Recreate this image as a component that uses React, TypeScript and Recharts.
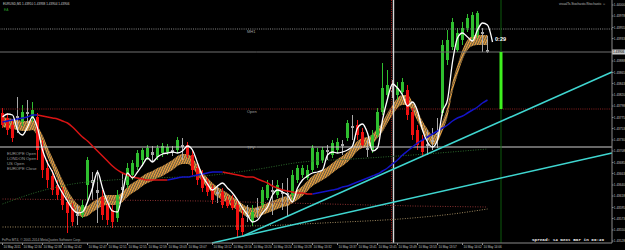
import React from 'react';
import { ComposedChart, Bar, Line, Area, XAxis, YAxis, ReferenceLine } from 'recharts';

const symbolTitle = 'EURUSD,M1  1.43910 1.43938 1.43904 1.43906';

const openP = [1.43784, 1.43774, 1.43760, 1.43774, 1.43766, 1.43786, 1.43774, 1.43776, 1.43714, 1.43674,
  1.43658, 1.43640, 1.43630, 1.43606, 1.43596, 1.43582, 1.43580, 1.43640, 1.43650, 1.43630,
  1.43616, 1.43600, 1.43590, 1.43574, 1.43630, 1.43640, 1.43660, 1.43676, 1.43690, 1.43696,
  1.43706, 1.43696, 1.43704, 1.43706, 1.43710, 1.43710, 1.43720, 1.43720, 1.43700, 1.43674,
  1.43660, 1.43646, 1.43634, 1.43622, 1.43626, 1.43610, 1.43610, 1.43600, 1.43574, 1.43576,
  1.43566, 1.43590, 1.43600, 1.43614, 1.43630, 1.43620, 1.43626, 1.43620, 1.43620, 1.43650,
  1.43660, 1.43654, 1.43670, 1.43680, 1.43690, 1.43706, 1.43700, 1.43710, 1.43718, 1.43734,
  1.43754, 1.43760, 1.43746, 1.43710, 1.43710, 1.43740, 1.43786, 1.43820, 1.43830, 1.43820,
  1.43826, 1.43830, 1.43786, 1.43750, 1.43730, 1.43718, 1.43726, 1.43740, 1.43784, 1.43890,
  1.43916, 1.43910, 1.43930, 1.43954, 1.43936, 1.43940, 1.43946, 1.43910];

const highP = [1.43794, 1.43784, 1.43770, 1.43816, 1.43800, 1.43810, 1.43806, 1.43784, 1.43730, 1.43690,
  1.43670, 1.43650, 1.43636, 1.43614, 1.43604, 1.43600, 1.43610, 1.43696, 1.43666, 1.43670,
  1.43630, 1.43610, 1.43600, 1.43630, 1.43664, 1.43684, 1.43690, 1.43710, 1.43714, 1.43720,
  1.43718, 1.43720, 1.43724, 1.43722, 1.43718, 1.43736, 1.43734, 1.43726, 1.43710, 1.43684,
  1.43670, 1.43654, 1.43640, 1.43640, 1.43634, 1.43618, 1.43620, 1.43610, 1.43590, 1.43600,
  1.43600, 1.43614, 1.43636, 1.43650, 1.43650, 1.43650, 1.43644, 1.43654, 1.43670, 1.43680,
  1.43680, 1.43680, 1.43720, 1.43714, 1.43716, 1.43720, 1.43730, 1.43734, 1.43730, 1.43770,
  1.43780, 1.43770, 1.43754, 1.43730, 1.43750, 1.43794, 1.43884, 1.43870, 1.43850, 1.43846,
  1.43854, 1.43840, 1.43794, 1.43760, 1.43740, 1.43750, 1.43754, 1.43774, 1.43930, 1.43950,
  1.43974, 1.43954, 1.43966, 1.43982, 1.43986, 1.43988, 1.43954, 1.43938];

const lowP = [1.43754, 1.43740, 1.43726, 1.43744, 1.43758, 1.43764, 1.43766, 1.43690, 1.43654, 1.43634,
  1.43620, 1.43610, 1.43590, 1.43544, 1.43558, 1.43560, 1.43574, 1.43604, 1.43610, 1.43564,
  1.43570, 1.43560, 1.43554, 1.43566, 1.43614, 1.43634, 1.43650, 1.43670, 1.43678, 1.43690,
  1.43686, 1.43690, 1.43696, 1.43700, 1.43698, 1.43704, 1.43690, 1.43694, 1.43660, 1.43640,
  1.43626, 1.43618, 1.43602, 1.43604, 1.43594, 1.43594, 1.43590, 1.43536, 1.43536, 1.43566,
  1.43558, 1.43574, 1.43594, 1.43610, 1.43580, 1.43614, 1.43590, 1.43576, 1.43610, 1.43644,
  1.43654, 1.43650, 1.43666, 1.43674, 1.43684, 1.43690, 1.43694, 1.43704, 1.43700, 1.43728,
  1.43730, 1.43730, 1.43714, 1.43696, 1.43704, 1.43734, 1.43780, 1.43810, 1.43814, 1.43810,
  1.43818, 1.43770, 1.43730, 1.43710, 1.43696, 1.43700, 1.43710, 1.43714, 1.43778, 1.43880,
  1.43910, 1.43906, 1.43920, 1.43946, 1.43930, 1.43934, 1.43906, 1.43904];

const closeP = [1.43760, 1.43750, 1.43734, 1.43778, 1.43786, 1.43782, 1.43790, 1.43710, 1.43670, 1.43650,
  1.43630, 1.43620, 1.43600, 1.43584, 1.43566, 1.43578, 1.43600, 1.43690, 1.43644, 1.43624,
  1.43580, 1.43570, 1.43566, 1.43620, 1.43636, 1.43674, 1.43684, 1.43704, 1.43710, 1.43714,
  1.43700, 1.43714, 1.43718, 1.43716, 1.43706, 1.43730, 1.43716, 1.43700, 1.43670, 1.43650,
  1.43634, 1.43626, 1.43610, 1.43626, 1.43600, 1.43598, 1.43594, 1.43550, 1.43546, 1.43580,
  1.43586, 1.43594, 1.43630, 1.43640, 1.43626, 1.43640, 1.43622, 1.43624, 1.43660, 1.43674,
  1.43674, 1.43670, 1.43714, 1.43706, 1.43710, 1.43710, 1.43724, 1.43726, 1.43722, 1.43764,
  1.43758, 1.43740, 1.43720, 1.43714, 1.43740, 1.43786, 1.43834, 1.43840, 1.43826, 1.43834,
  1.43846, 1.43780, 1.43740, 1.43720, 1.43706, 1.43722, 1.43730, 1.43744, 1.43920, 1.43930,
  1.43966, 1.43944, 1.43954, 1.43974, 1.43980, 1.43984, 1.43942, 1.43906];

const fastMA = [1.43776, 1.43782, 1.43780, 1.43750, 1.43740, 1.43756, 1.43776, 1.43754, 1.43710, 1.43684,
  1.43666, 1.43642, 1.43624, 1.43608, 1.43592, 1.43584, 1.43586, 1.43606, 1.43634, 1.43666,
  1.43634, 1.43606, 1.43588, 1.43586, 1.43624, 1.43664, 1.43654, 1.43666, 1.43680, 1.43694,
  1.43686, 1.43696, 1.43702, 1.43704, 1.43706, 1.43704, 1.43708, 1.43718, 1.43710, 1.43684,
  1.43658, 1.43642, 1.43630, 1.43638, 1.43644, 1.43634, 1.43624, 1.43610, 1.43594, 1.43580,
  1.43566, 1.43570, 1.43584, 1.43596, 1.43620, 1.43630, 1.43626, 1.43620, 1.43606, 1.43634,
  1.43650, 1.43658, 1.43664, 1.43666, 1.43670, 1.43700, 1.43706, 1.43704, 1.43706, 1.43710,
  1.43718, 1.43754, 1.43762, 1.43744, 1.43708, 1.43714, 1.43770, 1.43812, 1.43842, 1.43834,
  1.43820, 1.43798, 1.43806, 1.43788, 1.43750, 1.43726, 1.43716, 1.43730, 1.43786, 1.43810,
  1.43886, 1.43934, 1.43944, 1.43936, 1.43928, 1.43950, 1.43964, 1.43960, 1.43926];

const bandUpper = [1.43776, 1.43774, 1.43772, 1.43770, 1.43768, 1.43768, 1.43770, 1.43758, 1.43740, 1.43716,
  1.43694, 1.43672, 1.43650, 1.43630, 1.43614, 1.43602, 1.43596, 1.43598, 1.43606, 1.43612,
  1.43618, 1.43620, 1.43620, 1.43620, 1.43626, 1.43636, 1.43644, 1.43650, 1.43658, 1.43664,
  1.43668, 1.43674, 1.43678, 1.43684, 1.43690, 1.43698, 1.43702, 1.43702, 1.43694, 1.43680,
  1.43666, 1.43654, 1.43644, 1.43636, 1.43630, 1.43624, 1.43616, 1.43610, 1.43602, 1.43596,
  1.43594, 1.43596, 1.43600, 1.43604, 1.43608, 1.43612, 1.43616, 1.43618, 1.43624, 1.43630,
  1.43638, 1.43648, 1.43658, 1.43664, 1.43670, 1.43676, 1.43684, 1.43692, 1.43698, 1.43706,
  1.43716, 1.43728, 1.43734, 1.43736, 1.43742, 1.43754, 1.43766, 1.43784, 1.43800, 1.43814,
  1.43820, 1.43820, 1.43806, 1.43788, 1.43768, 1.43752, 1.43740, 1.43746, 1.43768, 1.43796,
  1.43846, 1.43880, 1.43910, 1.43930, 1.43938, 1.43940, 1.43940, 1.43940];

const bandLower = [1.43756, 1.43754, 1.43752, 1.43750, 1.43748, 1.43748, 1.43750, 1.43738, 1.43720, 1.43696,
  1.43674, 1.43652, 1.43630, 1.43610, 1.43594, 1.43582, 1.43576, 1.43578, 1.43586, 1.43592,
  1.43598, 1.43600, 1.43600, 1.43600, 1.43606, 1.43616, 1.43624, 1.43630, 1.43638, 1.43644,
  1.43648, 1.43654, 1.43658, 1.43664, 1.43670, 1.43678, 1.43682, 1.43682, 1.43674, 1.43660,
  1.43646, 1.43634, 1.43624, 1.43616, 1.43610, 1.43604, 1.43596, 1.43590, 1.43582, 1.43576,
  1.43574, 1.43576, 1.43580, 1.43584, 1.43588, 1.43592, 1.43596, 1.43598, 1.43604, 1.43610,
  1.43618, 1.43628, 1.43638, 1.43644, 1.43650, 1.43656, 1.43664, 1.43672, 1.43678, 1.43686,
  1.43696, 1.43708, 1.43714, 1.43716, 1.43722, 1.43734, 1.43746, 1.43764, 1.43780, 1.43794,
  1.43800, 1.43800, 1.43786, 1.43768, 1.43748, 1.43732, 1.43720, 1.43726, 1.43748, 1.43776,
  1.43826, 1.43860, 1.43890, 1.43910, 1.43918, 1.43920, 1.43920, 1.43920];

const slowMA = [1.43766, 1.43768, 1.43770, 1.43772, 1.43774, 1.43776, 1.43780, 1.43780, 1.43778, 1.43776,
  1.43774, 1.43772, 1.43768, 1.43764, 1.43756, 1.43746, 1.43736, 1.43728, 1.43718, 1.43708,
  1.43698, 1.43688, 1.43678, 1.43670, 1.43664, 1.43660, 1.43656, 1.43654, 1.43652, 1.43650,
  1.43650, 1.43650, 1.43650, 1.43650, 1.43652, 1.43654, 1.43656, 1.43656, 1.43658, 1.43660,
  1.43662, 1.43664, 1.43666, 1.43666, 1.43666, 1.43664, 1.43662, 1.43660, 1.43658, 1.43656,
  1.43656, 1.43652, 1.43648, 1.43644, 1.43638, 1.43634, 1.43630, 1.43628, 1.43626, 1.43624,
  1.43624, 1.43622, 1.43622, 1.43624, 1.43626, 1.43628, 1.43630, 1.43632, 1.43636, 1.43638,
  1.43642, 1.43646, 1.43650, 1.43654, 1.43658, 1.43662, 1.43668, 1.43674, 1.43682, 1.43690,
  1.43700, 1.43708, 1.43716, 1.43724, 1.43730, 1.43736, 1.43742, 1.43748, 1.43754, 1.43760,
  1.43768, 1.43774, 1.43778, 1.43784, 1.43790, 1.43796, 1.43804, 1.43810];

const longMA = [
  { i: 0, v: 1.43602 }, { i: 7, v: 1.43626 }, { i: 14, v: 1.43642 }, { i: 22, v: 1.43650 },
  { i: 30, v: 1.43654 }, { i: 40, v: 1.43658 }, { i: 50, v: 1.43670 }, { i: 60, v: 1.43686 },
  { i: 70, v: 1.43692 }, { i: 82, v: 1.43700 }, { i: 97, v: 1.43712 },
];
const pivotDotted = [{ i: 0, v: 1.43612 }, { i: 40, v: 1.43608 }, { i: 82, v: 1.43598 }, { i: 97, v: 1.43596 }];
const lowDotted = [
  { i: 0, v: 1.43556 }, { i: 50, v: 1.43558 }, { i: 64, v: 1.43564 },
  { i: 82, v: 1.43574 }, { i: 90, v: 1.43582 }, { i: 97, v: 1.43592 },
];

const levelMH1 = 1.43952;
const levelOpen = 1.43792;
const levelTPV = 1.43716;
const currentPrice = 1.43906;

const trendLines = [
  { x1: 41.9, y1: 1.43524, x2: 121.9, y2: 1.43704 },
  { x1: 48.1, y1: 1.43538, x2: 121.9, y2: 1.43866 },
];
const sessionBar = 78.2;
const sessionBarRed = 77.8;
const nextBarMark = 99.7;

const priceTicks = [1.44000, 1.43978, 1.43955, 1.43933, 1.43888, 1.43865, 1.43843, 1.43820, 1.43798,
  1.43775, 1.43753, 1.43730, 1.43708, 1.43685, 1.43663, 1.43640, 1.43618, 1.43595, 1.43573, 1.43550, 1.43528];

const timeTickIndex = [0, 4, 8, 12, 17, 21, 25, 29, 33, 37, 42, 46, 50, 54, 58, 62, 67, 71, 75, 79, 83, 87, 92, 96];
const timeTickLabel = ['10 May 2011', '10 May 12:34', '10 May 12:38', '10 May 12:42', '10 May 12:47', '10 May 12:51',
  '10 May 12:55', '10 May 12:59', '10 May 13:03', '10 May 13:07', '10 May 13:12', '10 May 13:16', '10 May 13:20',
  '10 May 13:24', '10 May 13:28', '10 May 13:32', '10 May 13:37', '10 May 13:41', '10 May 13:45', '10 May 13:49',
  '10 May 13:53', '10 May 13:57', '10 May 14:02', '10 May 14:06'];

const sessionLabels = ['EUROPE Open', 'LONDON Open', 'US Open', 'EUROPE Close'];

const FONT = 'Liberation Sans';

// ---------- build rows ----------
const dir: string[] = [];
for (let i = 0; i < slowMA.length; i++) {
  if (i === 0) dir.push('');
  else if (slowMA[i] > slowMA[i - 1]) dir.push('up');
  else if (slowMA[i] < slowMA[i - 1]) dir.push('down');
  else dir.push(dir[i - 1]);
}
dir[0] = dir[1];

const rows = fastMA.map((f, i) => {
  const hasC = i < openP.length;
  const s = i < slowMA.length ? slowMA[i] : null;
  const upHere = s != null && (dir[i] === 'up' || dir[i + 1] === 'up');
  const downHere = s != null && (dir[i] === 'down' || dir[i + 1] === 'down');
  return {
    i,
    o: hasC ? openP[i] : null,
    h: hasC ? highP[i] : null,
    l: hasC ? lowP[i] : null,
    c: hasC ? closeP[i] : null,
    fast: f,
    bu: i < bandUpper.length ? bandUpper[i] : null,
    bl: i < bandLower.length ? bandLower[i] : null,
    slowUp: upHere ? s : null,
    slowDown: downHere ? s : null,
  };
});

const Candle = (props: any) => {
  const { x, y, width, height, payload } = props;
  if (!payload || payload.o == null) return null;
  const top = Math.min(y, y + height);
  const hh = Math.abs(height);
  const range = payload.h - payload.l || 1e-9;
  const py = (p: number) => top + ((payload.h - p) / range) * hh;
  const diff = payload.c - payload.o;
  const color = Math.abs(diff) <= 0.000065 ? '#a8a8a8' : diff > 0 ? '#2fbf2f' : '#f01010';
  const cx = x + width / 2;
  const bTop = py(Math.max(payload.o, payload.c));
  const bBot = py(Math.min(payload.o, payload.c));
  return (
    <g>
      <line x1={cx} x2={cx} y1={top} y2={top + hh} stroke={color} strokeWidth={1} />
      <rect x={x} y={bTop} width={width} height={Math.max(1, bBot - bTop)} fill={color} />
    </g>
  );
};

const YTick = (props: any) => {
  const { x, y, payload } = props;
  return (
    <text x={x + 0.3} y={y + 1.1} fontSize={3.1} fill="#c4c4c4" fontFamily={FONT}>
      {Number(payload.value).toFixed(5)}
    </text>
  );
};

const XTick = (props: any) => {
  const { x, y, payload } = props;
  const k = timeTickIndex.indexOf(payload.value);
  return (
    <g>
      <text x={x + 1} y={y + 3} fontSize={3} fill="#c4c4c4" fontFamily={FONT} textAnchor="start">
        {k >= 0 ? timeTickLabel[k] : ''}
      </text>
    </g>
  );
};

const levelLabel = (text: string, dy: number) => (props: any) => {
  const vb = props.viewBox || {};
  return (
    <text x={(vb.x || 0) + 247} y={(vb.y || 0) + dy} fontSize={4} fill="#a0a0a0" fontFamily={FONT}>
      {text}
    </text>
  );
};

const priceTag = (props: any) => {
  const vb = props.viewBox || {};
  const x0 = (vb.x || 0) + (vb.width || 0);
  return (
    <g>
      <rect x={x0} y={(vb.y || 0) - 2.5} width={13} height={5} fill="#c8c8c8" />
      <text x={x0 + 1} y={(vb.y || 0) + 1.1} fontSize={3.1} fill="#000" fontFamily={FONT}>
        {currentPrice.toFixed(5)}
      </text>
    </g>
  );
};

export default function App() {
  return (
    <div style={{ position: 'fixed', left: 0, top: 0, width: 625, height: 250, background: '#000', overflow: 'hidden' }}>
      <svg width={0} height={0} style={{ position: 'absolute' }}>
        <defs>
          <pattern id="hatch" width="2.2" height="4" patternUnits="userSpaceOnUse" patternTransform="rotate(25)">
            <line x1="0.6" y1="0" x2="0.6" y2="4" stroke="#f5a53a" strokeWidth="1.2" />
            <line x1="1.6" y1="0" x2="1.6" y2="4" stroke="#fbe0b0" strokeWidth="0.5" />
          </pattern>
        </defs>
      </svg>
      <ComposedChart width={625} height={250} data={rows} margin={{ top: 0, right: 0, bottom: 0, left: 0 }}>
        <XAxis
          dataKey="i"
          type="number"
          domain={[-0.5, 121.9]}
          allowDataOverflow
          ticks={timeTickIndex}
          interval={0}
          height={7}
          tick={<XTick />}
          tickSize={2}
          tickMargin={0}
          axisLine={{ stroke: '#8a8a8a' }}
          tickLine={{ stroke: '#8a8a8a' }}
        />
        <YAxis
          orientation="right"
          type="number"
          domain={[1.43524, 1.44010]}
          allowDataOverflow
          ticks={priceTicks}
          interval={0}
          width={13}
          tick={<YTick />}
          tickSize={1.5}
          tickMargin={0}
          axisLine={{ stroke: '#8a8a8a' }}
          tickLine={{ stroke: '#8a8a8a' }}
        />
        <ReferenceLine y={levelMH1} stroke="#8a8a8a" strokeDasharray="1 1.2" label={levelLabel('MH1', 4)} />
        <ReferenceLine y={levelOpen} stroke="#8a2020" strokeDasharray="1 1.2" label={levelLabel('Open', 4)} />
        <ReferenceLine y={levelTPV} stroke="#cfcfcf" strokeWidth={1} label={levelLabel('TPV', 1.5)} />
        <ReferenceLine y={currentPrice} stroke="#707070" strokeWidth={1} label={priceTag} />
        <ReferenceLine x={nextBarMark} stroke="#0c5a0c" strokeWidth={1} />
        <ReferenceLine x={sessionBarRed} stroke="#a01818" strokeDasharray="1 1.2" />
        <ReferenceLine x={sessionBar} stroke="#d8d8d8" strokeWidth={1.4} />
        <Line data={longMA} dataKey="v" type="monotone" stroke="#2c6a2c" strokeDasharray="1 1.5" dot={false} activeDot={false} isAnimationActive={false} />
        <Line data={pivotDotted} dataKey="v" type="linear" stroke="#8a3030" strokeDasharray="1 1.5" dot={false} activeDot={false} isAnimationActive={false} />
        <Line data={lowDotted} dataKey="v" type="monotone" stroke="#a08a60" strokeDasharray="1 1.5" dot={false} activeDot={false} isAnimationActive={false} />
        <Bar dataKey={(d: any) => (d.o != null ? [d.l, d.h] : null)} barSize={3} shape={<Candle />} isAnimationActive={false} />
        <Area dataKey={(d: any) => (d.bu != null ? [d.bl, d.bu] : null)} type="monotone" stroke="none" fill="url(#hatch)" fillOpacity={1} dot={false} activeDot={false} isAnimationActive={false} />
        <Line dataKey="slowDown" type="monotone" stroke="#d81414" strokeWidth={1.5} dot={false} activeDot={false} connectNulls={false} isAnimationActive={false} />
        <Line dataKey="slowUp" type="monotone" stroke="#1414c8" strokeWidth={1.5} dot={false} activeDot={false} connectNulls={false} isAnimationActive={false} />
        <Line dataKey="fast" type="monotone" stroke="#ffffff" strokeWidth={1.3} dot={false} activeDot={false} isAnimationActive={false} />
        {trendLines.map((t, k) => (
          <ReferenceLine
            key={k}
            segment={[{ x: t.x1, y: t.y1 }, { x: t.x2, y: t.y2 }]}
            stroke="#3fd6d0"
            strokeWidth={1.5}
            ifOverflow="visible"
          />
        ))}
        <ReferenceLine
          segment={[{ x: nextBarMark, y: currentPrice }, { x: nextBarMark, y: levelOpen }]}
          stroke="#3ef01e"
          strokeWidth={3}
        />
      </ComposedChart>
      <svg width={625} height={250} style={{ position: 'absolute', left: 0, top: 0, pointerEvents: 'none' }}>
        <text x={3} y={5} fontSize={3.1} fill="#cfcfcf" fontFamily={FONT}>
          {symbolTitle}
        </text>
        <text x={4} y={10.5} fontSize={3.2} fill="#2aa02a" fontFamily={FONT}>EA</text>
        <text x={559} y={5} fontSize={3.2} fill="#bdbdbd" fontFamily={FONT}>
          visualTs.Stochastic/Stochastic ☺
        </text>
        {sessionLabels.map((s, k) => (
          <text key={s} x={7} y={154.5 + k * 5.2} fontSize={4.2} fill="#9c9c9c" fontFamily={FONT}>{s}</text>
        ))}
        <text x={495} y={41} fontSize={5.5} fontWeight="bold" fill="#ffffff" fontFamily={FONT}>0:29</text>
        <text x={532} y={240.5} fontSize={4.3} fontWeight="bold" fill="#f0f0f0" fontFamily="Liberation Mono">
          Spread: 14  Next Bar in 00:29
        </text>
        <text x={2} y={241} fontSize={3.3} fill="#a8a8a8" fontFamily={FONT}>
          FxPro MT4, © 2001-2014 MetaQuotes Software Corp.
        </text>
      </svg>
    </div>
  );
}
